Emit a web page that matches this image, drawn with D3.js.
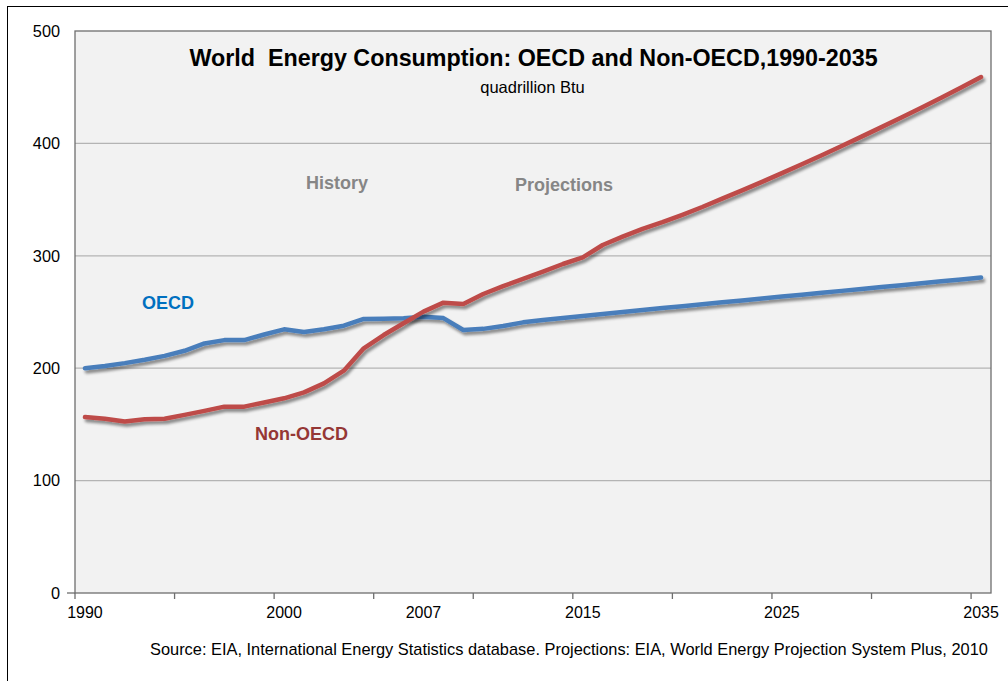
<!DOCTYPE html>
<html>
<head>
<meta charset="utf-8">
<script src="https://cdn.jsdelivr.net/npm/d3@7/dist/d3.min.js"></script>
<style>
  body { margin: 0; background: #fff; }
  text { font-family: Arial, "Liberation Sans", sans-serif; }
</style>
</head>
<body>
<div id="chart"></div>
<script>
// years on the category axis, 1990-2035
var years = d3.range(1990, 2036);

var oecd = [200, 202, 204.5, 207.5, 211, 215.5, 222, 225, 225, 230,
            234.6, 232.2, 234.6, 237.8, 243.8, 244, 244.5, 245.8, 244.6, 234,
            235, 237.5, 240.8, 242.9, 244.6, 246.4, 248.2, 250, 251.8, 253.5,
            255.2, 256.9, 258.6, 260.3, 262, 263.7, 265.4, 267.1, 268.8, 270.5,
            272.2, 273.9, 275.6, 277.3, 279, 280.7];

var nonOecd = [156.5, 155, 152.5, 154.5, 155, 158.5, 162, 165.8, 165.8, 169.5,
               173.2, 178.5, 186.5, 197.8, 217.7, 229.5, 240, 250.3, 258.3, 257.1,
               266, 273, 279.4, 285.9, 292.7, 298.6, 309.6, 317, 324, 330,
               336.5, 343.4, 350.8, 358.2, 365.8, 373.6, 381.5, 389.5, 397.7, 406,
               414.5, 423.1, 431.8, 440.7, 449.8, 459];

var xLabels = [1990, 2000, 2007, 2015, 2025, 2035];
var yTicks = [0, 100, 200, 300, 400, 500];

var outerWidth = 1008;
var outerHeight = 681;
var plotLeft = 75;
var plotRight = 991;
var plotTop = 31;
var plotBottom = 593;

var svg = d3.select("#chart").append("svg")
            .attr("width", outerWidth)
            .attr("height", outerHeight);

// shadow under the series lines
var defs = svg.append("defs");
var filter = defs.append("filter")
    .attr("id", "shadow")
    .attr("x", "-10%")
    .attr("y", "-10%")
    .attr("width", "120%")
    .attr("height", "130%");
filter.append("feGaussianBlur")
    .attr("in", "SourceAlpha")
    .attr("stdDeviation", 1.6);
filter.append("feOffset")
    .attr("dx", 2)
    .attr("dy", 3)
    .attr("result", "off");
filter.append("feComponentTransfer")
    .append("feFuncA")
    .attr("type", "linear")
    .attr("slope", 0.45);
var feMerge = filter.append("feMerge");
feMerge.append("feMergeNode");
feMerge.append("feMergeNode").attr("in", "SourceGraphic");

// outer frame (runs off the right and bottom edges)
svg.append("rect")
    .attr("x", 7.5)
    .attr("y", 6.5)
    .attr("width", 1020)
    .attr("height", 700)
    .attr("fill", "none")
    .attr("stroke", "#000")
    .attr("stroke-width", 1);

var x = d3.scaleBand()
        .domain(years)
        .range([plotLeft, plotRight]);

var y = d3.scaleLinear()
        .domain([0, 500])
        .range([plotBottom, plotTop]);

function cx(yr) { return x(yr) + x.bandwidth() / 2; }

svg.append("rect")
    .attr("x", plotLeft)
    .attr("y", plotTop)
    .attr("width", plotRight - plotLeft)
    .attr("height", plotBottom - plotTop)
    .attr("fill", "#f2f2f2");

// gridlines
svg.append("g")
    .selectAll("line")
    .data(yTicks.filter(function(d){ return d > 0 && d < 500; }))
    .enter()
    .append("line")
    .attr("x1", plotLeft)
    .attr("x2", plotRight)
    .attr("y1", function(d){ return y(d); })
    .attr("y2", function(d){ return y(d); })
    .attr("stroke", "#b4b4b4")
    .attr("stroke-width", 1.3);

svg.append("rect")
    .attr("x", plotLeft)
    .attr("y", plotTop)
    .attr("width", plotRight - plotLeft)
    .attr("height", plotBottom - plotTop)
    .attr("fill", "none")
    .attr("stroke", "#6e6e6e")
    .attr("stroke-width", 1.3);

// y axis labels
var yAxis = d3.axisLeft(y)
    .tickValues(yTicks)
    .tickSize(0)
    .tickPadding(15);
svg.append("g")
    .attr("transform", "translate(" + plotLeft + ",0)")
    .call(yAxis)
    .call(function(g){ g.select(".domain").remove(); })
    .selectAll("text")
    .attr("font-size", "16.3px")
    .attr("font-family", "Arial, 'Liberation Sans', sans-serif")
    .attr("fill", "#000");

svg.append("line")
    .attr("x1", plotLeft - 8)
    .attr("x2", plotLeft)
    .attr("y1", plotBottom)
    .attr("y2", plotBottom)
    .attr("stroke", "#6e6e6e")
    .attr("stroke-width", 1.3);

// x axis tick marks every five categories, on the boundaries
var tickYears = years.filter(function(d, i){ return i % 5 == 0; });
svg.append("g")
    .selectAll("line")
    .data(tickYears)
    .enter()
    .append("line")
    .attr("x1", function(d){ return x(d); })
    .attr("x2", function(d){ return x(d); })
    .attr("y1", plotBottom)
    .attr("y2", plotBottom + 6)
    .attr("stroke", "#6e6e6e")
    .attr("stroke-width", 1.3);

svg.append("g")
    .selectAll("text")
    .data(xLabels)
    .enter()
    .append("text")
    .attr("x", function(d){ return cx(d); })
    .attr("y", plotBottom + 25)
    .attr("text-anchor", "middle")
    .attr("font-size", "16px")
    .text(function(d){ return d; });

// series
var line = d3.line()
    .x(function(d, i){ return cx(years[i]); })
    .y(function(d){ return y(d); });

svg.append("path")
    .datum(oecd)
    .attr("d", line)
    .attr("fill", "none")
    .attr("stroke", "#4a7ebb")
    .attr("stroke-width", 4.5)
    .attr("stroke-linejoin", "round")
    .attr("stroke-linecap", "round")
    .attr("filter", "url(#shadow)");

svg.append("path")
    .datum(nonOecd)
    .attr("d", line)
    .attr("fill", "none")
    .attr("stroke", "#be4b48")
    .attr("stroke-width", 4.5)
    .attr("stroke-linejoin", "round")
    .attr("stroke-linecap", "round")
    .attr("filter", "url(#shadow)");

// titles and labels
svg.append("text")
    .attr("x", 533.5)
    .attr("y", 66)
    .attr("text-anchor", "middle")
    .attr("font-size", "23.3px")
    .attr("font-weight", "bold")
    .attr("xml:space", "preserve")
    .text("World  Energy Consumption: OECD and Non-OECD,1990-2035");

svg.append("text")
    .attr("x", 532.5)
    .attr("y", 93)
    .attr("text-anchor", "middle")
    .attr("font-size", "16.5px")
    .text("quadrillion Btu");

svg.append("text")
    .attr("x", 306)
    .attr("y", 189)
    .attr("font-size", "18px")
    .attr("font-weight", "bold")
    .attr("fill", "#868686")
    .text("History");

svg.append("text")
    .attr("x", 515)
    .attr("y", 191)
    .attr("font-size", "18px")
    .attr("font-weight", "bold")
    .attr("fill", "#868686")
    .text("Projections");

svg.append("text")
    .attr("x", 142)
    .attr("y", 309)
    .attr("font-size", "18px")
    .attr("font-weight", "bold")
    .attr("fill", "#0070c0")
    .text("OECD");

svg.append("text")
    .attr("x", 255)
    .attr("y", 440)
    .attr("font-size", "18px")
    .attr("font-weight", "bold")
    .attr("fill", "#953735")
    .text("Non-OECD");

svg.append("text")
    .attr("x", 150)
    .attr("y", 655)
    .attr("font-size", "16.4px")
    .text("Source: EIA, International Energy Statistics database. Projections: EIA, World Energy Projection System Plus, 2010");
</script>
</body>
</html>
